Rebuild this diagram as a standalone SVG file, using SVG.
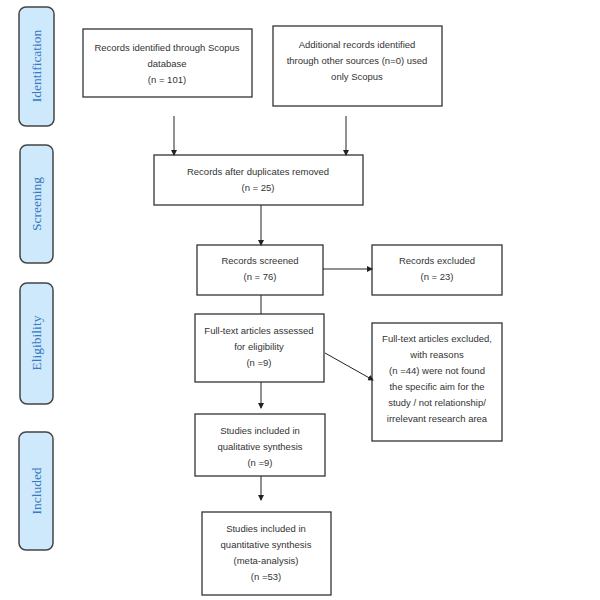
<svg xmlns="http://www.w3.org/2000/svg" width="600" height="600" viewBox="0 0 600 600">
<style>
.b{fill:#fff;stroke:#333;stroke-width:1.3}
.s{fill:#cde9fb;stroke:#444;stroke-width:1.5}
.t{font-family:"Liberation Sans",Arial,sans-serif;font-size:9.5px;fill:#333;text-anchor:middle}
.l{font-family:"Liberation Serif",serif;font-size:13.5px;fill:#3a78c0;text-anchor:middle}
.c{stroke:#222;stroke-width:1;fill:none;marker-end:url(#a)}
</style>
<defs><marker id="a" markerWidth="6" markerHeight="6" refX="5" refY="3" orient="auto" markerUnits="userSpaceOnUse"><path d="M0,0L6,3L0,6z" fill="#222"/></marker></defs>
<g id="stage-identification"><rect class="s" x="19" y="7" width="35" height="119" rx="7"/><text class="l" transform="translate(41,66) rotate(-90)">Identification</text></g>
<g id="stage-screening"><rect class="s" x="20" y="145" width="33" height="118" rx="7"/><text class="l" transform="translate(41,204) rotate(-90)">Screening</text></g>
<g id="stage-eligibility"><rect class="s" x="20" y="283" width="33" height="121" rx="7"/><text class="l" transform="translate(41,343) rotate(-90)">Eligibility</text></g>
<g id="stage-included"><rect class="s" x="19" y="432" width="34" height="118" rx="7"/><text class="l" transform="translate(41,491) rotate(-90)">Included</text></g>
<g id="n1"><rect class="b" x="83" y="29" width="169" height="68"/><text class="t" x="167" y="51">Records identified through Scopus</text><text class="t" x="167" y="67">database</text><text class="t" x="167" y="83">(n = 101)</text></g>
<g id="n2"><rect class="b" x="273" y="26" width="169" height="80"/><text class="t" x="357" y="48">Additional records identified</text><text class="t" x="357" y="64">through other sources (n=0) used</text><text class="t" x="357" y="80">only Scopus</text></g>
<g id="n3"><rect class="b" x="154" y="155" width="209" height="50"/><text class="t" x="258" y="175">Records after duplicates removed</text><text class="t" x="258" y="191">(n = 25)</text></g>
<g id="n4"><rect class="b" x="197" y="245" width="126" height="50"/><text class="t" x="260" y="264">Records screened</text><text class="t" x="260" y="280">(n = 76)</text></g>
<g id="n5"><rect class="b" x="372" y="245" width="130" height="50"/><text class="t" x="437" y="264">Records excluded</text><text class="t" x="437" y="280">(n = 23)</text></g>
<g id="n6"><rect class="b" x="195" y="314" width="129" height="68"/><text class="t" x="259" y="334">Full-text articles assessed</text><text class="t" x="259" y="350">for eligibility</text><text class="t" x="259" y="366">(n =9)</text></g>
<g id="n7"><rect class="b" x="372" y="323" width="130" height="118"/><text class="t" x="437" y="342">Full-text articles excluded,</text><text class="t" x="437" y="358">with reasons</text><text class="t" x="437" y="374">(n =44) were not found</text><text class="t" x="437" y="390">the specific aim for the</text><text class="t" x="437" y="406">study / not relationship/</text><text class="t" x="437" y="422">irrelevant research area</text></g>
<g id="n8"><rect class="b" x="195" y="414" width="130" height="62"/><text class="t" x="260" y="434">Studies included in</text><text class="t" x="260" y="450">qualitative synthesis</text><text class="t" x="260" y="466">(n =9)</text></g>
<g id="n9"><rect class="b" x="202" y="512" width="129" height="83"/><text class="t" x="266" y="532">Studies included in</text><text class="t" x="266" y="548">quantitative synthesis</text><text class="t" x="266" y="564">(meta-analysis)</text><text class="t" x="266" y="580">(n =53)</text></g>
<g id="connectors">
<path class="c" d="M174,116V155"/>
<path class="c" d="M346,116V155"/>
<path class="c" d="M261,205V245"/>
<path class="c" d="M323,269H372"/>
<path d="M261,295V314" stroke="#222" stroke-width="1"/>
<path class="c" d="M325,353L373,380"/>
<path class="c" d="M261,382V408"/>
<path class="c" d="M261,476V500"/>
</g>
</svg>
